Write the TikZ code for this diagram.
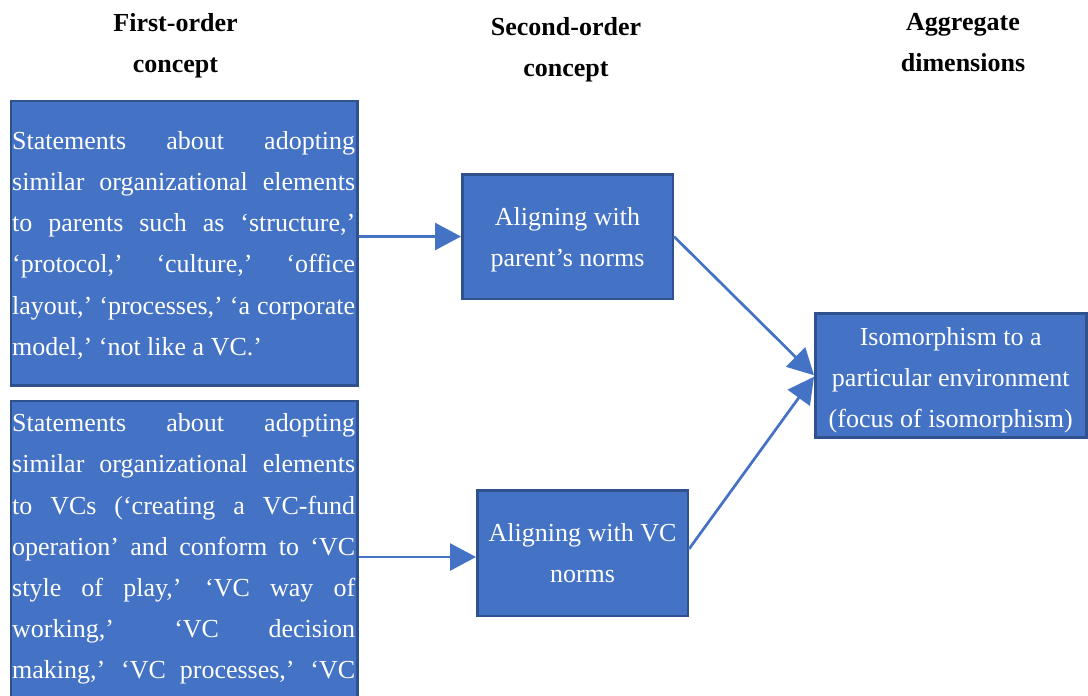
\documentclass[tikz,border=0pt]{standalone}
\usepackage{fontspec}
\setmainfont{Liberation Serif}
\usetikzlibrary{arrows.meta}
\definecolor{boxfill}{HTML}{4472C4}
\definecolor{boxline}{HTML}{2F528F}
\definecolor{arrowc}{HTML}{4472C4}
\newcommand\jline[1]{\makebox[343pt][s]{#1}\par}
\newcommand\lline[1]{\makebox[343pt][l]{#1}\par}
\begin{document}
\begin{tikzpicture}[x=1pt,y=-1pt,
  box/.style={rectangle, draw=boxline, fill=boxfill, line width=2.5pt, inner sep=0pt},
  txt/.style={inner sep=0pt, anchor=base, text=white, font=\fontsize{26}{41.2}\selectfont},
  head/.style={inner sep=0pt, anchor=base, text=black, font=\fontsize{26}{41}\selectfont\bfseries},
  conn/.style={draw=arrowc, line width=2.7pt, -{Triangle[length=26pt,width=27pt]}}]
\useasboundingbox (0,0) rectangle (1088,696);
\clip (0,0) rectangle (1088,696);
\fill[white] (0,0) rectangle (1088,696);

% headings
\node[head] (h1) at (175.5,31.7) {\parbox[t]{220pt}{\centering First-order\\concept}};
\node[head] (h2) at (566,35) {\parbox[t]{220pt}{\centering Second-order\\concept}};
\node[head] (h3) at (963,30.7) {\parbox[t]{220pt}{\centering Aggregate\\dimensions}};

% boxes
\node[box, minimum width=346.5pt, minimum height=284.5pt] (a) at (184,243) {};
\node[box, minimum width=346.5pt, minimum height=379pt] (b) at (184,590.4) {};
\node[box, minimum width=210.5pt, minimum height=124.5pt] (c) at (567.5,236.5) {};
\node[box, minimum width=210.5pt, minimum height=125.5pt] (d) at (582.5,553) {};
\node[box, minimum width=271pt, minimum height=124pt] (e) at (950.75,375.25) {};

% connectors
\coordinate (dtip) at ([yshift=-4pt]d.west);
\coordinate (dout) at ([yshift=4pt]d.east);
\coordinate (etip2) at ([yshift=-1.5pt]e.west);
\draw[conn] (a.east |- c.west) -- (c.west);
\draw[conn] (b.east |- dtip) -- (dtip);
\draw[conn] (c.east) -- (e.west);
\draw[conn] (dout) -- (etip2);

% texts
\node[txt, anchor=base west] (atext) at (12,149.3) {\parbox[t]{343pt}{%
\jline{Statements about adopting}
\jline{similar organizational elements}
\jline{to parents such as ‘structure,’}
\jline{‘protocol,’ ‘culture,’ ‘office}
\jline{layout,’ ‘processes,’ ‘a corporate}
\lline{model,’ ‘not like a VC.’}}};

\node[txt, anchor=base west] (btext) at (12,431.7) {\parbox[t]{343pt}{%
\jline{Statements about adopting}
\jline{similar organizational elements}
\jline{to VCs (‘creating a VC-fund}
\jline{operation’ and conform to ‘VC}
\jline{style of play,’ ‘VC way of}
\jline{working,’ ‘VC decision}
\jline{making,’ ‘VC processes,’ ‘VC}}};

\node[txt] (ctext) at (567.5,225) {\parbox[t]{210pt}{\centering Aligning with\\parent’s norms}};
\node[txt] (dtext) at (582.5,541.7) {\parbox[t]{210pt}{\centering Aligning with VC\\norms}};
\node[txt] (etext) at (950.75,345) {\parbox[t]{268pt}{\centering Isomorphism to a\\particular environment\\(focus of isomorphism)}};
\end{tikzpicture}
\end{document}
